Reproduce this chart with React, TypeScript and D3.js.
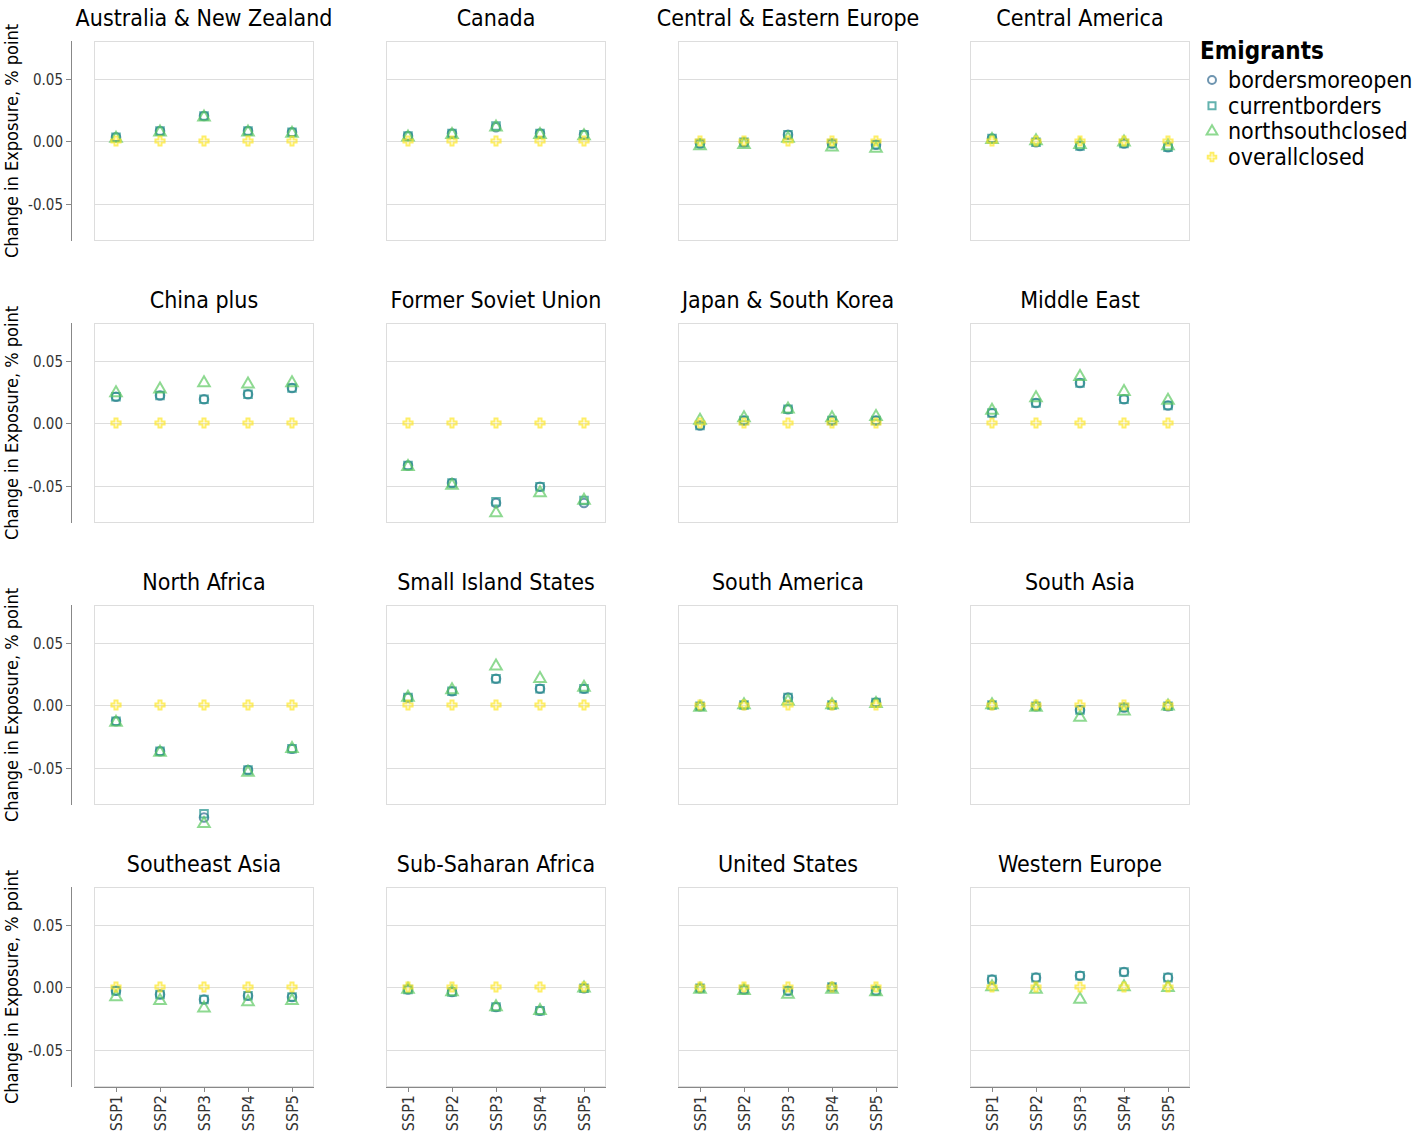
import React from 'react';
import * as d3 from 'd3';

const regions = [
  'Australia & New Zealand', 'Canada', 'Central & Eastern Europe', 'Central America',
  'China plus', 'Former Soviet Union', 'Japan & South Korea', 'Middle East',
  'North Africa', 'Small Island States', 'South America', 'South Asia',
  'Southeast Asia', 'Sub-Saharan Africa', 'United States', 'Western Europe',
];
const ssps = ['SSP1', 'SSP2', 'SSP3', 'SSP4', 'SSP5'];
const scenarios = ['bordersmoreopen', 'currentborders', 'northsouthclosed', 'overallclosed'];
const yTicks = [-0.05, 0, 0.05];

// values per region, SSP1..SSP5
const bordersmoreopen = [
  [0.003, 0.008, 0.02, 0.008, 0.007],
  [0.004, 0.006, 0.011, 0.006, 0.005],
  [-0.002, -0.001, 0.005, -0.002, -0.003],
  [0.002, -0.001, -0.004, -0.002, -0.005],
  [0.021, 0.022, 0.019, 0.023, 0.028],
  [-0.034, -0.048, -0.064, -0.051, -0.064],
  [-0.002, 0.002, 0.011, 0.002, 0.002],
  [0.008, 0.016, 0.032, 0.019, 0.014],
  [-0.013, -0.037, -0.090, -0.052, -0.035],
  [0.006, 0.011, 0.021, 0.013, 0.013],
  [-0.001, 0.0, 0.006, 0.0, 0.002],
  [0.0, -0.001, -0.004, -0.002, -0.001],
  [-0.003, -0.006, -0.010, -0.007, -0.008],
  [-0.002, -0.004, -0.016, -0.019, -0.001],
  [-0.001, -0.002, -0.003, 0.0, -0.003],
  [0.006, 0.0075, 0.009, 0.012, 0.0075],
];
const currentborders = [
  [0.003, 0.008, 0.02, 0.008, 0.007],
  [0.004, 0.006, 0.012, 0.006, 0.005],
  [-0.002, -0.001, 0.005, -0.002, -0.003],
  [0.002, -0.001, -0.004, -0.002, -0.005],
  [0.021, 0.022, 0.019, 0.023, 0.028],
  [-0.034, -0.048, -0.063, -0.051, -0.062],
  [-0.002, 0.002, 0.011, 0.002, 0.002],
  [0.008, 0.016, 0.032, 0.019, 0.014],
  [-0.013, -0.037, -0.087, -0.052, -0.035],
  [0.006, 0.011, 0.021, 0.013, 0.013],
  [-0.001, 0.0, 0.006, 0.0, 0.002],
  [0.0, -0.001, -0.004, -0.002, -0.001],
  [-0.003, -0.006, -0.010, -0.007, -0.008],
  [-0.002, -0.004, -0.016, -0.019, -0.001],
  [-0.001, -0.002, -0.003, 0.0, -0.003],
  [0.006, 0.0075, 0.009, 0.012, 0.0075],
];
const northsouthclosed = [
  [0.002, 0.007, 0.019, 0.007, 0.006],
  [0.003, 0.005, 0.011, 0.005, 0.004],
  [-0.004, -0.003, 0.002, -0.005, -0.006],
  [0.001, 0.0, -0.003, -0.001, -0.004],
  [0.024, 0.027, 0.032, 0.031, 0.032],
  [-0.035, -0.05, -0.072, -0.056, -0.062],
  [0.002, 0.004, 0.011, 0.004, 0.005],
  [0.01, 0.02, 0.037, 0.025, 0.018],
  [-0.014, -0.038, -0.095, -0.054, -0.035],
  [0.006, 0.012, 0.031, 0.021, 0.014],
  [-0.002, 0.0, 0.003, 0.0, 0.001],
  [0.0, -0.002, -0.010, -0.005, -0.001],
  [-0.008, -0.011, -0.017, -0.012, -0.011],
  [-0.002, -0.004, -0.016, -0.019, -0.001],
  [-0.002, -0.003, -0.006, -0.002, -0.004],
  [0.0, -0.002, -0.010, 0.0, -0.0005],
];
const overallclosed = regions.map(() => [0, 0, 0, 0, 0]);
const seriesValues = [bordersmoreopen, currentborders, northsouthclosed, overallclosed];

const colors = ['#31688e', '#21918c', '#5ec962', '#fde725'];
const shapes = [d3.symbolCircle, d3.symbolSquare, d3.symbolTriangle, d3.symbolCross];

const W = 220;
const H = 200;
const colStep = 292;
const rowStep = 282;
const left0 = 94;
const top0 = 41;
const font = '"DejaVu Sans Condensed", "DejaVu Sans", Verdana, sans-serif';

const x = d3.scalePoint().domain(ssps).range([0, W]).padding(0.5);
const y = d3.scaleLinear().domain([-0.08, 0.08]).range([H, 0]);
const fmt = (v: number) => d3.format('.2f')(v).replace('\u2212', '-');

const symbolPath = (i: number, size = 58) => d3.symbol().type(shapes[i]).size(i === 3 ? size * 0.8 : size)() as string;

const Panel = ({ r }: { r: number }) => {
  const col = r % 4;
  const row = Math.floor(r / 4);
  const tx = left0 + col * colStep;
  const ty = top0 + row * rowStep;
  return (
    <g transform={`translate(${tx},${ty})`}>
      <text x={W / 2} y={-15} textAnchor="middle" fontSize={23} fontFamily={font} fill="#000">
        {regions[r]}
      </text>
      <rect x={0.5} y={0.5} width={W - 1} height={H - 1} fill="none" stroke="#ddd" />
      {yTicks.map(t => (
        <line key={t} x1={0} x2={W} y1={Math.round(y(t)) + 0.5} y2={Math.round(y(t)) + 0.5} stroke="#ddd" />
      ))}
      {col === 0 && (
        <g transform="translate(-23,0)">
          <line x1={0.5} x2={0.5} y1={0} y2={H} stroke="#888" />
          {yTicks.map(t => (
            <g key={t} transform={`translate(0,${Math.round(y(t)) + 0.5})`}>
              <line x1={-5} x2={0} stroke="#888" />
              <text x={-8} dy="0.35em" textAnchor="end" fontSize={15} fontFamily={font} fill="#333">
                {fmt(t)}
              </text>
            </g>
          ))}
          <text
            transform={`translate(-53,${H / 2}) rotate(-90)`}
            textAnchor="middle"
            fontSize={18}
            fontFamily={font}
            fill="#000"
          >
            Change in Exposure, % point
          </text>
        </g>
      )}
      {row === 3 && (
        <g transform={`translate(0,${H})`}>
          <line x1={0} x2={W} y1={0.5} y2={0.5} stroke="#888" />
          {ssps.map(s => (
            <g key={s} transform={`translate(${Math.round(x(s) as number) + 0.5},0)`}>
              <line y1={0} y2={5} stroke="#888" />
              <text transform="translate(0,8) rotate(-90)" dy="0.35em" textAnchor="end" fontSize={16} fontFamily={font} fill="#333">
                {s}
              </text>
            </g>
          ))}
        </g>
      )}
      {seriesValues.map((vals, si) =>
        ssps.map((s, j) => (
          <path
            key={`${si}-${j}`}
            d={symbolPath(si)}
            transform={`translate(${x(s)},${y(vals[r][j])})`}
            fill="none"
            stroke={colors[si]}
            strokeWidth={2}
            opacity={0.7}
          />
        )),
      )}
    </g>
  );
};

export default function App() {
  return (
    <svg width={1421} height={1135} style={{ position: 'absolute', left: 0, top: 0 }}>
      <rect width={1421} height={1135} fill="#fff" />
      {regions.map((_, r) => (
        <Panel key={r} r={r} />
      ))}
      <g transform="translate(1200,0)">
        <text x={0} y={59} fontSize={24} fontWeight="bold" fontFamily={font} fill="#000">
          Emigrants
        </text>
        {scenarios.map((s, i) => (
          <g key={s} transform={`translate(0,${80 + i * 25.7})`}>
            <path d={symbolPath(i, 50)} transform="translate(12,0)" fill="none" stroke={colors[i]} strokeWidth={2} opacity={0.7} />
            <text x={28} dy="0.35em" fontSize={23} fontFamily={font} fill="#000">
              {s}
            </text>
          </g>
        ))}
      </g>
    </svg>
  );
}
